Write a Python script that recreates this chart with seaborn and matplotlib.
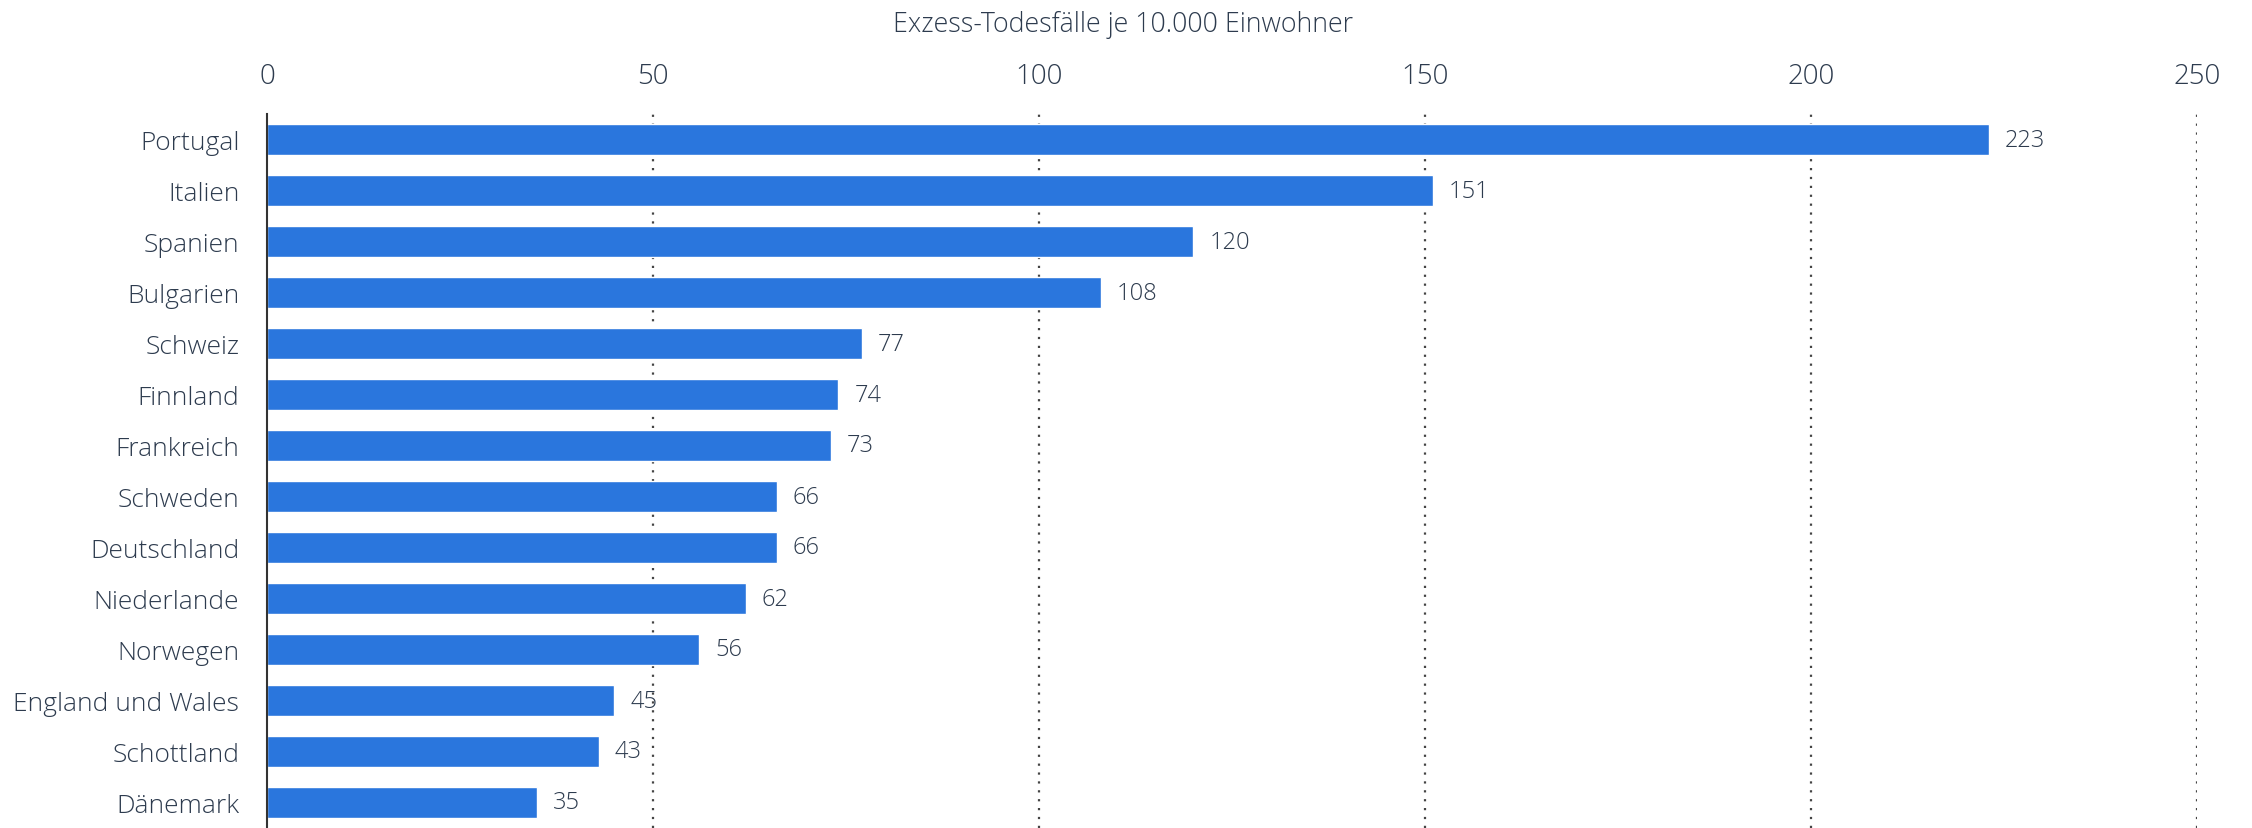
import matplotlib
matplotlib.use("Agg")
import matplotlib.pyplot as plt
import seaborn as sns
import pandas as pd

countries = ["Portugal", "Italien", "Spanien", "Bulgarien", "Schweiz", "Finnland",
             "Frankreich", "Schweden", "Deutschland", "Niederlande", "Norwegen",
             "England und Wales", "Schottland", "Dänemark"]
values = [223, 151, 120, 108, 77, 74, 73, 66, 66, 62, 56, 45, 43, 35]
xticks = [0, 50, 100, 150, 200, 250]
axis_title = "Exzess-Todesfälle je 10.000 Einwohner"

sns.set_theme(style="white")
plt.rcParams['font.family'] = ['Open Sans', 'DejaVu Sans']

TEXT = "#2d3b4e"
BLUE = "#2a76dd"

df = pd.DataFrame({"Land": countries, "Wert": values})

fig = plt.figure(figsize=(22.52, 8.29), dpi=100)
ax = fig.add_axes([0.1186, 0.0, 0.9756 - 0.1186, 1 - 115 / 829])

sns.barplot(data=df, x="Wert", y="Land", orient="h", color=BLUE, width=0.6,
            saturation=1, ax=ax, zorder=3)

ax.set_xlim(0, 250)
ax.set_ylim(13.5, -0.5)
ax.set_xticks(xticks)
ax.xaxis.tick_top()
ax.tick_params(axis="x", length=0, pad=17.5, labelsize=20, labelcolor=TEXT)
ax.tick_params(axis="y", length=0, pad=20, labelsize=19, labelcolor=TEXT)
for lab in ax.get_xticklabels() + ax.get_yticklabels():
    lab.set_fontweight("light")
ax.set_xlabel("")
ax.set_ylabel("")

for x in xticks[1:]:
    ax.axvline(x, color="#444444", linestyle=(0, (1, 3)), linewidth=1.6, zorder=1)

for s in ["top", "right", "bottom"]:
    ax.spines[s].set_visible(False)
ax.spines["left"].set_color("#333333")
ax.spines["left"].set_linewidth(1.5)
ax.spines["left"].set_zorder(5)

for i, v in enumerate(values):
    ax.annotate(str(v), xy=(v, i), xytext=(16, 0), textcoords="offset pixels",
                va="center", ha="left", fontsize=17, color=TEXT, fontweight="light")

fig.text(0.4985, 1 - 25 / 829, axis_title, ha="center", va="center",
         fontsize=19.3, color=TEXT, fontweight="light")

fig.savefig("out.png", dpi=100)
